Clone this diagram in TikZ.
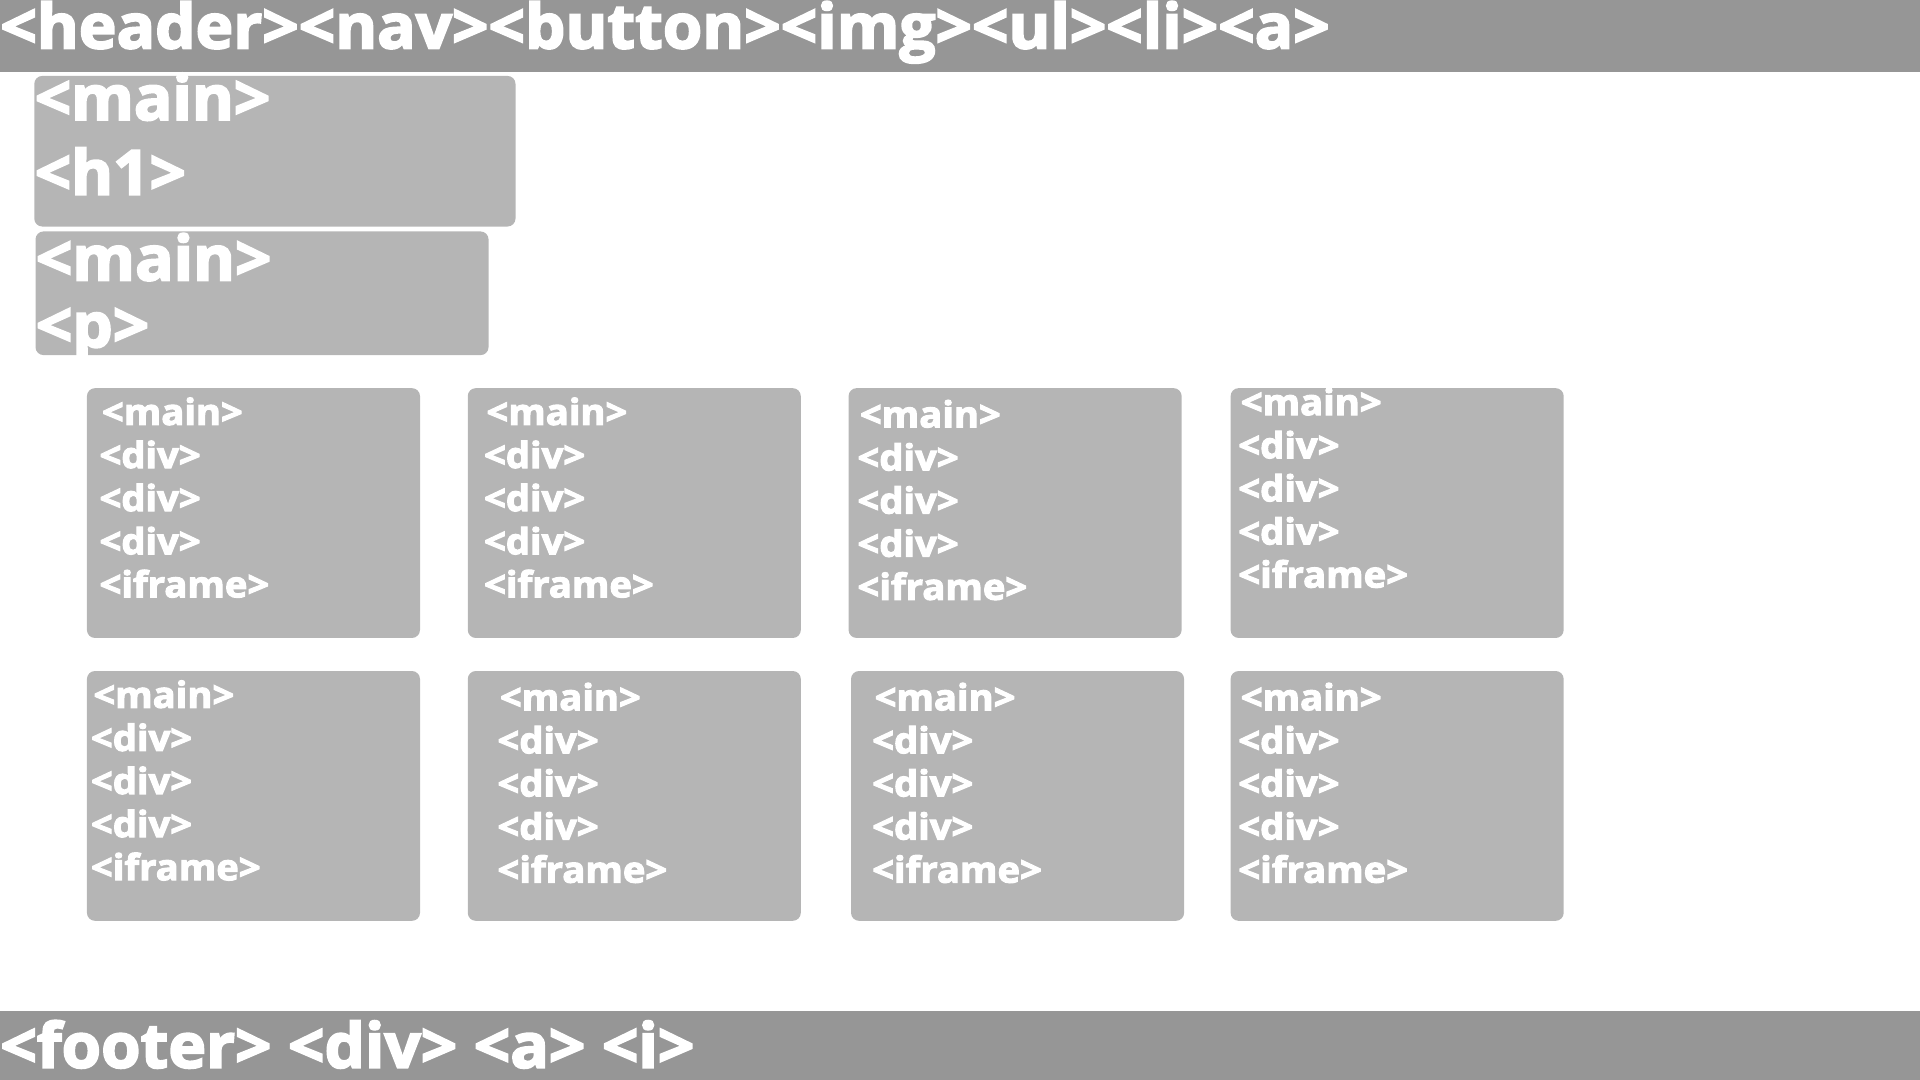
\documentclass[tikz,border=0pt]{standalone}
\usepackage{fontspec}
\newfontfamily\bigtagfont{Open Sans}[FakeStretch=1.03, BoldFeatures={FakeBold=3}]
\newfontfamily\smalltagfont{Open Sans}[FakeStretch=1.06, BoldFeatures={FakeBold=3}]
\usetikzlibrary{positioning}
\definecolor{barGray}{RGB}{150,150,150}
\definecolor{boxGray}{RGB}{181,181,181}
\begin{document}
\begin{tikzpicture}[x=0.61224pt, y=-0.61224pt,
    bar/.style={fill=barGray},
    panel/.style={fill=boxGray, rounded corners=4pt},
    bigtag/.style={text=white, inner sep=0pt, anchor=base west,
      font=\bigtagfont\bfseries\fontsize{31}{31}\selectfont},
    smalltag/.style={text=white, inner sep=0pt, anchor=base west,
      font=\smalltagfont\bfseries\fontsize{18}{18}\selectfont}]
  \useasboundingbox (0,0) rectangle (1568,882);
  % header and footer bars
  \fill[bar] (0,0) rectangle (1568,59);
  \node[bigtag] (header) at (0,39.5) {<header><nav><button><img><ul><li><a>};
  \fill[bar] (0,826) rectangle (1568,882);
  \node[bigtag] (footer) at (0,872) {<footer> <div> <a> <i>};
  % title and text blocks
  \fill[panel] (28,62) rectangle (421,185);
  \node[bigtag] (heroMain) at (28,98) {<main>};
  \node[bigtag] (heroH) at (28,159) {<h1>};
  \fill[panel] (29,189) rectangle (399,290);
  \node[bigtag] (textMain) at (29,229) {<main>};
  \node[bigtag] (textP) at (29,283.5) {<p>};
  % grid of video cards
  \foreach \bx/\by/\tx/\ty [count=\k] in {71/317/81/347, 382/317/395/347,
      693/317/700/349, 1005/317/1011/339, 71/548/74/578, 382/548/406/580,
      695/548/712/580, 1005/548/1011/580}{
    \fill[panel] (\bx,\by) rectangle ++(272,204);
    \node[smalltag] (card\k) at (\tx+2,\ty) {<main>};
    \foreach \t [count=\j] in {div,div,div,iframe}
      \node[smalltag] (card\k-\j) at (\tx,\ty+\j*35.2) {<\t>};
  }
\end{tikzpicture}
\end{document}
